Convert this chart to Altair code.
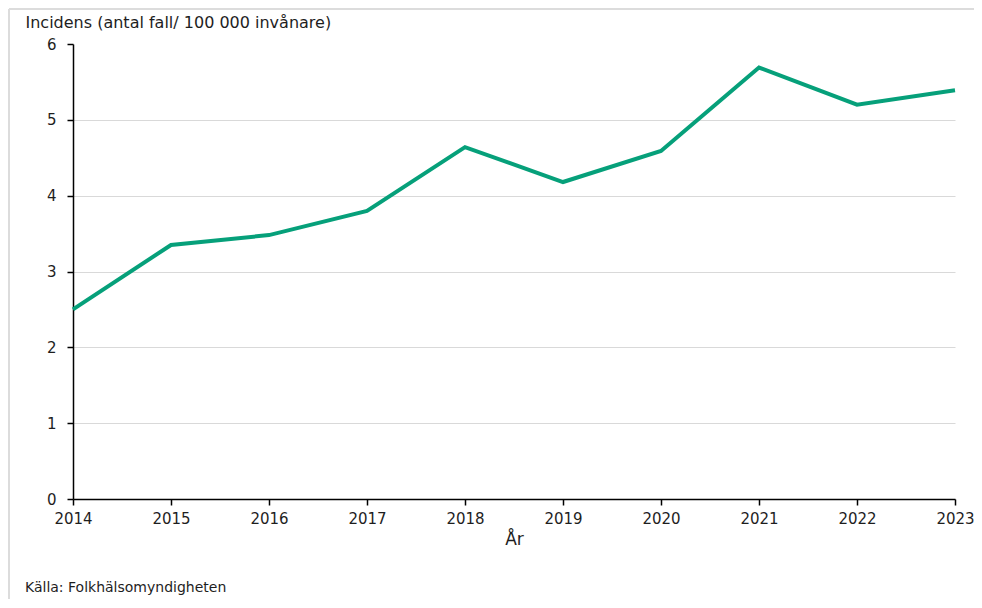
import altair as alt
import pandas as pd

years = [2014, 2015, 2016, 2017, 2018, 2019, 2020, 2021, 2022, 2023]
incidence = [2.50, 3.35, 3.48, 3.80, 4.64, 4.18, 4.59, 5.69, 5.20, 5.39]
y_ticks = [0, 1, 2, 3, 4, 5, 6]
y_title = "Incidens (antal fall/ 100 000 invånare)"
x_title = "År"
source = "Källa: Folkhälsomyndigheten"

FONT = "DejaVu Sans"
TXT = "#1e1e1e"
W, H = 882, 455

df = pd.DataFrame({"year": years, "value": incidence})

x_scale = alt.Scale(domain=[years[0], years[-1]], nice=False, zero=False)
y_scale = alt.Scale(domain=[0, 6], nice=False)

line = alt.Chart(df).mark_line(color="#06A07A", strokeWidth=4, strokeJoin="miter").encode(
    x=alt.X(
        "year:Q",
        scale=x_scale,
        axis=alt.Axis(
            values=years,
            format="d",
            title=x_title,
            grid=False,
            domainColor="#000000",
            domainWidth=1.5,
            tickColor="#000000",
            tickWidth=1.5,
            tickSize=6,
            labelPadding=6,
            labelFontSize=15,
            labelFont=FONT,
            labelColor=TXT,
            labelFlush=False,
            labelOverlap=False,
            titleFont=FONT,
            titleFontSize=17,
            titleFontWeight="normal",
            titleColor=TXT,
            titleBaseline="alphabetic",
            titleY=45,
        ),
    ),
    y=alt.Y(
        "value:Q",
        scale=y_scale,
        axis=alt.Axis(
            values=y_ticks,
            title=y_title,
            grid=True,
            gridColor="#d9d9d9",
            gridWidth=1,
            gridOpacity={"condition": {"test": "datum.value >= 6", "value": 0}, "value": 1},
            domainColor="#000000",
            domainWidth=1.5,
            tickColor="#000000",
            tickWidth=1.5,
            tickSize=6,
            labelPadding=11,
            labelFontSize=15,
            labelFont=FONT,
            labelColor=TXT,
            titleFont=FONT,
            titleFontSize=16,
            titleFontWeight="normal",
            titleColor=TXT,
            titleAngle=0,
            titleAlign="left",
            titleBaseline="alphabetic",
            titleX=-48,
            titleY=-17,
        ),
    ),
)

src = alt.Chart(pd.DataFrame({"t": [source]})).mark_text(
    align="left", baseline="alphabetic", font=FONT, fontSize=14, color=TXT
).encode(text="t:N", x=alt.value(-48), y=alt.value(548))

frame_top = alt.Chart(pd.DataFrame({"a": [0]})).mark_rule(color="#dcdcdc", strokeWidth=2).encode(
    x=alt.value(-64), x2=alt.value(W + 30), y=alt.value(-35)
)
frame_left = alt.Chart(pd.DataFrame({"a": [0]})).mark_rule(color="#dcdcdc", strokeWidth=2).encode(
    x=alt.value(-64), y=alt.value(-35), y2=alt.value(H + 110)
)

chart = alt.layer(line, src, frame_top, frame_left).properties(
    width=W,
    height=H,
    background="white",
    padding={"left": 65, "top": 36, "right": 19, "bottom": 100},
    autosize=alt.AutoSizeParams(type="none"),
).configure_view(stroke=None)

chart.save("out.html", embed_options={"renderer": "svg", "actions": False})
